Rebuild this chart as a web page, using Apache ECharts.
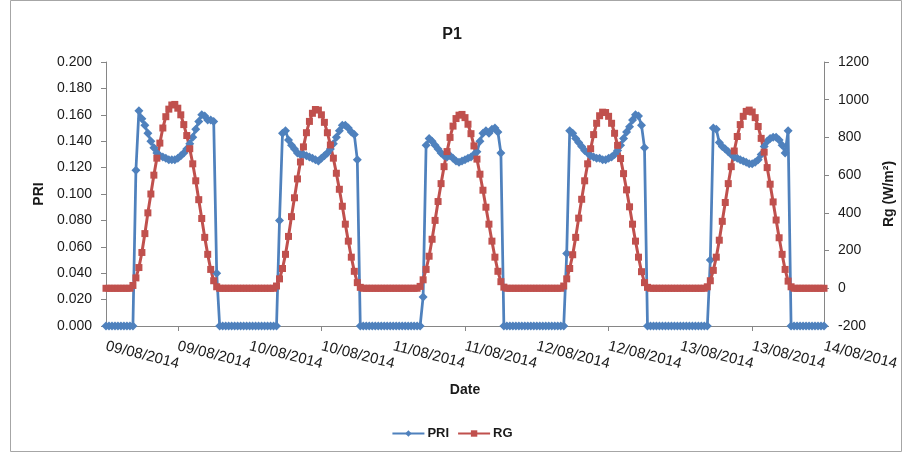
<!DOCTYPE html>
<html>
<head>
<meta charset="utf-8">
<script src="https://cdn.jsdelivr.net/npm/echarts@6/dist/echarts.min.js"></script>
<style>html,body{margin:0;padding:0;background:#fff;}#c{width:904px;height:457px;}</style>
</head>
<body>
<div id="c"></div>
<script>
// Dates (one label every 12 h; categories every 30 min)
const days = ['09/08/2014','10/08/2014','11/08/2014','12/08/2014','13/08/2014','14/08/2014'];
const tickLabels = ['09/08/2014','09/08/2014','10/08/2014','10/08/2014','11/08/2014','11/08/2014','12/08/2014','12/08/2014','13/08/2014','13/08/2014','14/08/2014'];

// PRI per day (48 half-hour values each)
const priDay1 = [0,0,0,0,0,0,0,0,0,0, 0.118,0.163,0.157,0.152,0.146,0.140,0.135,0.131,0.129,0.128,0.127,0.126,0.126,0.126,0.127,0.129,0.131,0.134,0.138,0.143,0.149,0.155,0.160,0.159,0.156,0.156,0.155,0.040, 0,0,0,0,0,0,0,0,0,0];
const priDay2 = [0,0,0,0,0,0,0,0,0,0, 0.080,0.146,0.148,0.141,0.137,0.134,0.131,0.130,0.130,0.129,0.128,0.127,0.126,0.125,0.127,0.129,0.131,0.134,0.138,0.143,0.148,0.152,0.152,0.150,0.147,0.145,0.126, 0,0,0,0,0,0,0,0,0,0,0];
const priDay3 = [0,0,0,0,0,0,0,0,0,0, 0.022,0.137,0.142,0.140,0.137,0.134,0.131,0.129,0.128,0.129,0.127,0.125,0.124,0.125,0.126,0.127,0.128,0.130,0.132,0.140,0.146,0.148,0.146,0.149,0.150,0.147,0.131, 0,0,0,0,0,0,0,0,0,0,0];
const priDay4 = [0,0,0,0,0,0,0,0,0,0, 0.055,0.148,0.146,0.142,0.139,0.136,0.133,0.131,0.129,0.128,0.127,0.127,0.126,0.126,0.127,0.128,0.130,0.133,0.137,0.142,0.147,0.151,0.156,0.160,0.159,0.152,0.135, 0,0,0,0,0,0,0,0,0,0,0];
const priDay5 = [0,0,0,0,0,0,0,0,0,0, 0.050,0.150,0.149,0.139,0.136,0.134,0.132,0.130,0.128,0.127,0.126,0.125,0.124,0.123,0.123,0.124,0.126,0.130,0.136,0.140,0.142,0.143,0.143,0.141,0.137,0.131,0.148, 0,0,0,0,0,0,0,0,0,0,0];
const priEnd = [0];

// RG (W/m2) per day
const rgDay1 = [0,0,0,0,0,0,0,0,0, 15,55,110,190,290,400,500,600,690,770,850,910,950,972,975,955,920,868,810,740,660,570,470,370,270,180,100,40,8, 0,0,0,0,0,0,0,0,0,0];
const rgDay2 = [0,0,0,0,0,0,0,0,0, 12,50,105,180,275,380,480,580,670,750,825,885,928,948,945,920,880,825,760,690,610,525,435,340,250,165,90,30,5, 0,0,0,0,0,0,0,0,0,0];
const rgDay3 = [0,0,0,0,0,0,0,0,0, 10,45,100,170,260,360,460,555,645,725,800,860,900,918,922,905,870,820,755,685,605,520,430,340,250,165,90,35,6, 0,0,0,0,0,0,0,0,0,0];
const rgDay4 = [0,0,0,0,0,0,0,0,0, 12,50,105,178,270,372,472,570,660,740,815,875,915,934,932,912,875,822,758,688,608,522,432,340,250,165,88,30,5, 0,0,0,0,0,0,0,0,0,0];
const rgDay5 = [0,0,0,0,0,0,0,0,0, 8,40,95,165,255,355,455,555,645,728,805,868,912,938,945,935,905,858,795,722,640,552,458,362,268,180,100,38,8, 0,0,0,0,0,0,0,0,0,0];
const rgEnd = [0];

const pri = [].concat(priDay1, priDay2, priDay3, priDay4, priDay5, priEnd);
const rg = [].concat(rgDay1, rgDay2, rgDay3, rgDay4, rgDay5, rgEnd);

// categories: half-hourly timestamps
const categories = [];
for (let d = 0; d < 5; d++) {
  for (let h = 0; h < 48; h++) {
    const hh = String(Math.floor(h / 2)).padStart(2, '0');
    const mm = h % 2 ? '30' : '00';
    categories.push(days[d] + ' ' + hh + ':' + mm);
  }
}
categories.push(days[5] + ' 00:00');

const FONT = 'Liberation Sans';
const TXT = '#1a1a1a';
const AX = '#868686';

const chart = echarts.init(document.getElementById('c'));
chart.setOption({
  animation: false,
  backgroundColor: '#fff',
  textStyle: { fontFamily: FONT },
  graphic: [{
    type: 'rect', shape: { x: 10.5, y: 0.5, width: 891, height: 451 },
    style: { fill: 'none', stroke: '#a6a6a6', lineWidth: 1 }, silent: true, z: -1
  }],
  title: {
    text: 'P1', left: 'center', top: 22,
    textStyle: { fontFamily: FONT, fontSize: 16, fontWeight: 'bold', color: TXT }
  },
  legend: {
    bottom: 12, left: 'center', itemWidth: 32, itemHeight: 8, itemGap: 8,
    textStyle: { fontFamily: FONT, fontSize: 13, fontWeight: 'bold', color: TXT, padding: [0, 0, 0, -2] },
    data: ['PRI', 'RG']
  },
  grid: { left: 106, right: 80, top: 62, bottom: 131, containLabel: false },
  xAxis: {
    type: 'category', data: categories, boundaryGap: false,
    name: 'Date', nameLocation: 'middle', nameGap: 57,
    nameTextStyle: { fontFamily: FONT, fontSize: 14, fontWeight: 'bold', color: TXT },
    axisLine: { lineStyle: { color: AX, width: 1 } },
    axisTick: { show: true, length: 5, interval: (i) => i % 48 === 24, lineStyle: { color: AX } },
    axisLabel: {
      interval: (i) => i % 24 === 0, rotate: -14, margin: 20,
      fontFamily: FONT, fontSize: 15, color: TXT,
      formatter: (v, i) => tickLabels[Math.round(i / 24)] || v.split(' ')[0]
    },
    splitLine: { show: false }
  },
  yAxis: [{
    type: 'value', min: 0, max: 0.2, interval: 0.02, position: 'left',
    name: 'PRI', nameLocation: 'middle', nameGap: 58, nameRotate: 90,
    nameTextStyle: { fontFamily: FONT, fontSize: 14, fontWeight: 'bold', color: TXT },
    axisLine: { show: true, lineStyle: { color: AX } },
    axisTick: { show: true, length: 5, lineStyle: { color: AX } },
    axisLabel: { formatter: (v) => v.toFixed(3), margin: 14, fontFamily: FONT, fontSize: 14, color: TXT },
    splitLine: { show: false }
  }, {
    type: 'value', min: -200, max: 1200, interval: 200, position: 'right',
    name: 'Rg (W/m²)', nameLocation: 'middle', nameGap: 58, nameRotate: 90,
    nameTextStyle: { fontFamily: FONT, fontSize: 14, fontWeight: 'bold', color: TXT },
    axisLine: { show: true, lineStyle: { color: AX } },
    axisTick: { show: true, length: 5, lineStyle: { color: AX } },
    axisLabel: { formatter: (v) => String(v), margin: 14, fontFamily: FONT, fontSize: 14, color: TXT },
    splitLine: { show: false }
  }],
  series: [{
    name: 'PRI', type: 'line', yAxisIndex: 0, data: pri,
    symbol: 'diamond', symbolSize: 9, showAllSymbol: true,
    lineStyle: { color: '#4F81BD', width: 2.75 },
    itemStyle: { color: '#4F81BD' }
  }, {
    name: 'RG', type: 'line', yAxisIndex: 1, data: rg,
    symbol: 'rect', symbolSize: 7, showAllSymbol: true,
    lineStyle: { color: '#C0504D', width: 3 },
    itemStyle: { color: '#C0504D' }
  }]
});
</script>
</body>
</html>
